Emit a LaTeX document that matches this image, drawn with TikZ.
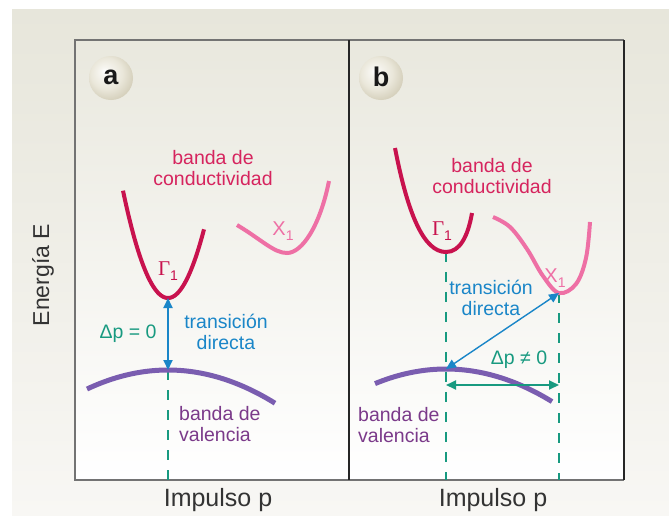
\documentclass[tikz,border=0pt]{standalone}
\usepackage{fontspec}
\setmainfont{Liberation Sans}
\newfontfamily\greekfont{Liberation Serif}
\usepackage{xcolor}
\definecolor{bg-top}{HTML}{E7E6DB}
\definecolor{bg-bottom}{HTML}{F8F7F4}
\definecolor{panel-top}{HTML}{E9E8DE}
\definecolor{panel-bottom}{HTML}{FFFFFF}
\definecolor{band-cond}{HTML}{C8124E}
\definecolor{text-cond}{HTML}{D6245E}
\definecolor{band-x}{HTML}{EE70A5}
\definecolor{band-val}{HTML}{7A5DB0}
\definecolor{text-val}{HTML}{7B3A8A}
\definecolor{arrow-blue}{HTML}{1A86C8}
\definecolor{mom-teal}{HTML}{189A80}
\definecolor{ball-mid}{HTML}{EAE7DA}
\definecolor{ball-edge}{HTML}{CFC9B3}
\usepackage{tikz}
\usetikzlibrary{
  arrows.meta,
  positioning
}
\pgfdeclareradialshading{pearl}{\pgfpoint{-8bp}{8bp}}{%
  color(0bp)=(white); color(5bp)=(white!60!ball-mid);
  color(18bp)=(ball-mid); color(32bp)=(ball-edge); color(50bp)=(ball-edge)}
\newcommand{\lblfont}{\fontsize{19.5}{21.5}\selectfont}
\newcommand{\subone}{{\fontsize{14}{14}\selectfont\raisebox{-5pt}{1}}}

\begin{document}
\begin{tikzpicture}[
    x=1pt, y=-1pt,
    frame/.style={
      draw=black!55,
      line width=1.2pt
    },
    cond band/.style={
      draw=band-cond,
      line width=4pt
    },
    x band/.style={
      draw=band-x,
      line width=4pt
    },
    val band/.style={
      draw=band-val,
      line width=5pt
    },
    guide/.style={
      draw=mom-teal,
      line width=1.4pt,
      dash pattern=on 10pt off 10pt
    },
    trans arrow/.style={
      {Triangle[length=10pt,width=9pt]}-{Triangle[length=10pt,width=9pt]},
      draw=arrow-blue,
      fill=arrow-blue
    },
    mom arrow/.style={
      {Triangle[length=10pt,width=9pt]}-{Triangle[length=10pt,width=9pt]},
      draw=mom-teal,
      fill=mom-teal,
      line width=1.8pt
    },
    cond label/.style={
      font=\lblfont,
      text=text-cond,
      align=center,
      inner sep=0pt
    },
    val label/.style={
      font=\lblfont,
      text=text-val,
      align=left,
      inner sep=0pt
    },
    trans label/.style={
      font=\lblfont,
      text=arrow-blue,
      align=center,
      inner sep=0pt
    },
    mom label/.style={
      font=\lblfont,
      text=mom-teal,
      inner sep=0pt
    },
    axis label/.style={
      font=\fontsize{25}{28}\selectfont,
      text=black!80,
      inner sep=0pt
    },
    tag/.style={
      font=\fontsize{27}{27}\selectfont\bfseries,
      text=black!90,
      inner sep=0pt
    }
  ]
    \useasboundingbox (0,0) rectangle (669,515);

    % Backgrounds and frame
    \shade[top color=bg-top, bottom color=bg-bottom] (12,9) rectangle (669,515);
    \shade[top color=panel-top, bottom color=panel-bottom] (75,40) rectangle (624,480);
    \draw[frame] (624,40) -- (75,40) -- (75,480) -- (624,480);
    \draw[frame, draw=black!85] (624,40) -- (624,480);
    \draw[frame, draw=black!85] (349,40) -- (349,480);

    % Panel tags
    \shade[shading=pearl] (111,78) circle[radius=22];
    \node[tag] (tagA) at (111,77) {a};
    \shade[shading=pearl] (381,78) circle[radius=22];
    \node[tag] (tagB) at (381,77) {b};

    % Key points
    \coordinate (gamA) at (168,298);
    \coordinate (valA) at (168,370);
    \coordinate (botA) at (168,480);
    \coordinate (gamB) at (446,252);
    \coordinate (valB) at (446,369);
    \coordinate (botB) at (446,480);
    \coordinate (xB)   at (559,293);
    \coordinate (botX) at (559,480);
    \coordinate (momL) at (446,385);
    \coordinate (momR) at (559,385);

    % Dashed momentum guides
    \draw[guide] (valA) -- (botA);
    \draw[guide] (gamB) -- (botB);
    \draw[guide] (xB) -- (botX);

    % Panel a: bands
    \draw[cond band] plot[domain=123:204, samples=50] (\x, {298-0.053*(\x-168)*(\x-168)});
    \draw[x band] (237,225) .. controls (262,240) and (274,253) .. (287,253)
      .. controls (302,253) and (320,226) .. (329,181);
    \draw[val band] plot[domain=87:275, samples=50] (\x, {370+0.0029*(\x-168)*(\x-168)});

    % Panel b: bands
    \draw[cond band] (395,148) .. controls (408,215) and (424,252) .. (446,252)
      .. controls (460,252) and (468,236) .. (472,213);
    \draw[x band] plot[smooth, tension=0.6] coordinates {
      (493,217) (510,227) (527,249) (543,276) (559,293) (576,284) (586,258) (590,222)};
    \draw[val band] plot[domain=375:552, samples=50] (\x, {369+0.0029*(\x-446)*(\x-446)});

    % Transitions
    \draw[trans arrow, line width=2pt] (valA) -- (gamA);
    \draw[trans arrow, line width=1.4pt] (valB) -- (xB);
    \draw[mom arrow] (momL) -- (momR);

    % Labels panel a
    \node[cond label] (condA) at (213,168) {banda de\\conductividad};
    \node[text=band-cond, inner sep=0pt] (gamLblA) at (168,271)
      {{\greekfont\fontsize{21}{21}\selectfont Γ}\subone};
    \node[text=band-x, font=\fontsize{20}{20}\selectfont, inner sep=0pt] (xLblA) at (283,231)
      {X\subone};
    \node[trans label] (transA) at (226,332) {transición\\directa};
    \node[mom label] (momA) at (128,334) {Δp = 0};
    \node[val label, anchor=west] (valLblA) at (179,424) {banda de\\valencia};
    \node[axis label] (impA) at (218,500) {Impulso p};

    % Labels panel b
    \node[cond label] (condB) at (492,176) {banda de\\conductividad};
    \node[text=band-cond, inner sep=0pt] (gamLblB) at (442,231)
      {{\greekfont\fontsize{21}{21}\selectfont Γ}\subone};
    \node[text=band-x, font=\fontsize{20}{20}\selectfont, inner sep=0pt] (xLblB) at (555,278)
      {X\subone};
    \node[trans label] (transB) at (491,298) {transición\\directa};
    \node[mom label] (momB) at (519,360) {Δp ≠ 0};
    \node[val label, anchor=west] (valLblB) at (358,425) {banda de\\valencia};
    \node[axis label] (impB) at (493,500) {Impulso p};

    % Energy axis
    \node[axis label, font=\fontsize{23}{26}\selectfont, rotate=90] (energy) at (43,275) {Energía E};
  \end{tikzpicture}
\end{document}
